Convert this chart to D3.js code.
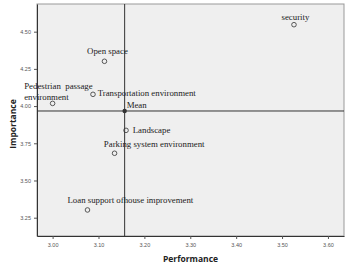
<!DOCTYPE html>
<html>
<head>
  <meta charset="utf-8">
  <style>
    body { margin: 0; background: #fff; }
    .tick text { font-family: "Liberation Sans", Arial, sans-serif; font-size: 5.5px; fill: #555; }
    .tick line { stroke: #555; }
    .domain { stroke: #333; }
    .lbl { font-family: "Liberation Serif", "Times New Roman", serif; font-size: 8.8px; fill: #222; }
    .title { font-family: "Open Sans", "DejaVu Sans", sans-serif; font-size: 8.5px; font-weight: bold; fill: #222; }
  </style>
</head>
<body>
<svg width="347" height="264"></svg>
<script src="https://d3js.org/d3.v7.min.js"></script>
<script>

  // data
  var names = ["security", "Open space", "Transportation environment", "Pedestrian  passage|environment",
               "Landscape", "Parking system environment", "Loan support ofhouse improvement"];
  var performance = [3.526, 3.113, 3.088, 3.000, 3.160, 3.135, 3.076];
  var importance = [4.547, 4.301, 4.079, 4.018, 3.837, 3.683, 3.302];
  var meanPerf = 3.157, meanImp = 3.967;
  var xTicks = [3.00, 3.10, 3.20, 3.30, 3.40, 3.50, 3.60];
  var yTicks = [3.25, 3.50, 3.75, 4.00, 4.25, 4.50];

  // label placement, offsets from the point in px
  var labelPos = {
    "security": {dx: 1.5, dy: -4.5, anchor: "middle"},
    "Open space": {dx: 3, dy: -7, anchor: "middle"},
    "Transportation environment": {dx: 4.7, dy: 2, anchor: "start"},
    "Pedestrian  passage|environment": {dx: -28.4, dy: -14.3, anchor: "start"},
    "Landscape": {dx: 6.7, dy: 3, anchor: "start"},
    "Parking system environment": {dx: -10.7, dy: -6, anchor: "start"},
    "Loan support ofhouse improvement": {dx: -20, dy: -6.7, anchor: "start"}
  };

  var svg = d3.select("svg"),
      margin = {top: 4, right: 3, bottom: 28, left: 37},
      width = +svg.attr("width") - margin.left - margin.right,
      height = +svg.attr("height") - margin.top - margin.bottom,
      g = svg.append("g").attr("transform", "translate(" + margin.left + "," + margin.top + ")");

  var x = d3.scaleLinear().domain([2.966, 3.635]).range([0, width]);
  var y = d3.scaleLinear().domain([3.127, 4.686]).range([height, 0]);

  g.append("rect")
    .attr("width", width)
    .attr("height", height)
    .attr("fill", "#efefef")
    .attr("stroke", "#999")
    .attr("stroke-width", 1);

  g.append("g")
    .attr("transform", "translate(0," + height + ")")
    .call(d3.axisBottom(x).tickValues(xTicks).tickFormat(d3.format(".2f")).tickSize(3).tickSizeOuter(0))
    .selectAll("text").attr("dy", "0.9em");

  g.append("g")
    .call(d3.axisLeft(y).tickValues(yTicks).tickFormat(d3.format(".2f")).tickSize(3).tickSizeOuter(0));

  // mean reference lines
  g.append("line")
    .attr("x1", x(meanPerf)).attr("x2", x(meanPerf))
    .attr("y1", 0).attr("y2", height)
    .attr("stroke", "#333").attr("stroke-width", 1);

  g.append("line")
    .attr("x1", 0).attr("x2", width)
    .attr("y1", y(meanImp)).attr("y2", y(meanImp))
    .attr("stroke", "#333").attr("stroke-width", 1);

  var data = names.map(function(n, i) { return {name: n, p: performance[i], imp: importance[i]}; });

  g.selectAll(".pt")
    .data(data)
    .enter().append("circle")
    .attr("class", "pt")
    .attr("cx", function(d) { return x(d.p); })
    .attr("cy", function(d) { return y(d.imp); })
    .attr("r", 2.3)
    .attr("fill", "none")
    .attr("stroke", "#333")
    .attr("stroke-width", 0.8);

  var lbl = g.selectAll(".lbl")
    .data(data)
    .enter().append("text")
    .attr("class", "lbl")
    .attr("text-anchor", function(d) { return labelPos[d.name].anchor; })
    .attr("x", function(d) { return x(d.p) + labelPos[d.name].dx; })
    .attr("y", function(d) { return y(d.imp) + labelPos[d.name].dy; })
    .style("white-space", "pre");

  lbl.each(function(d) {
    var t = d3.select(this), lines = d.name.split("|"), x0 = t.attr("x");
    lines.forEach(function(s, i) {
      t.append("tspan").attr("x", x0).attr("dy", i ? 10.7 : 0).text(s);
    });
  });

  // mean point
  g.append("circle")
    .attr("cx", x(meanPerf))
    .attr("cy", y(meanImp))
    .attr("r", 2.2)
    .attr("fill", "#333");

  g.append("text")
    .attr("class", "lbl")
    .attr("x", x(meanPerf) + 2)
    .attr("y", y(meanImp) - 2.7)
    .text("Mean");

  svg.append("text")
    .attr("class", "title")
    .attr("text-anchor", "middle")
    .attr("x", margin.left + width / 2)
    .attr("y", 262)
    .text("Performance");

  svg.append("text")
    .attr("class", "title")
    .attr("text-anchor", "middle")
    .attr("transform", "translate(16," + (margin.top + height / 2 + 4) + ") rotate(-90)")
    .text("Importance");

</script>
</body>
</html>
